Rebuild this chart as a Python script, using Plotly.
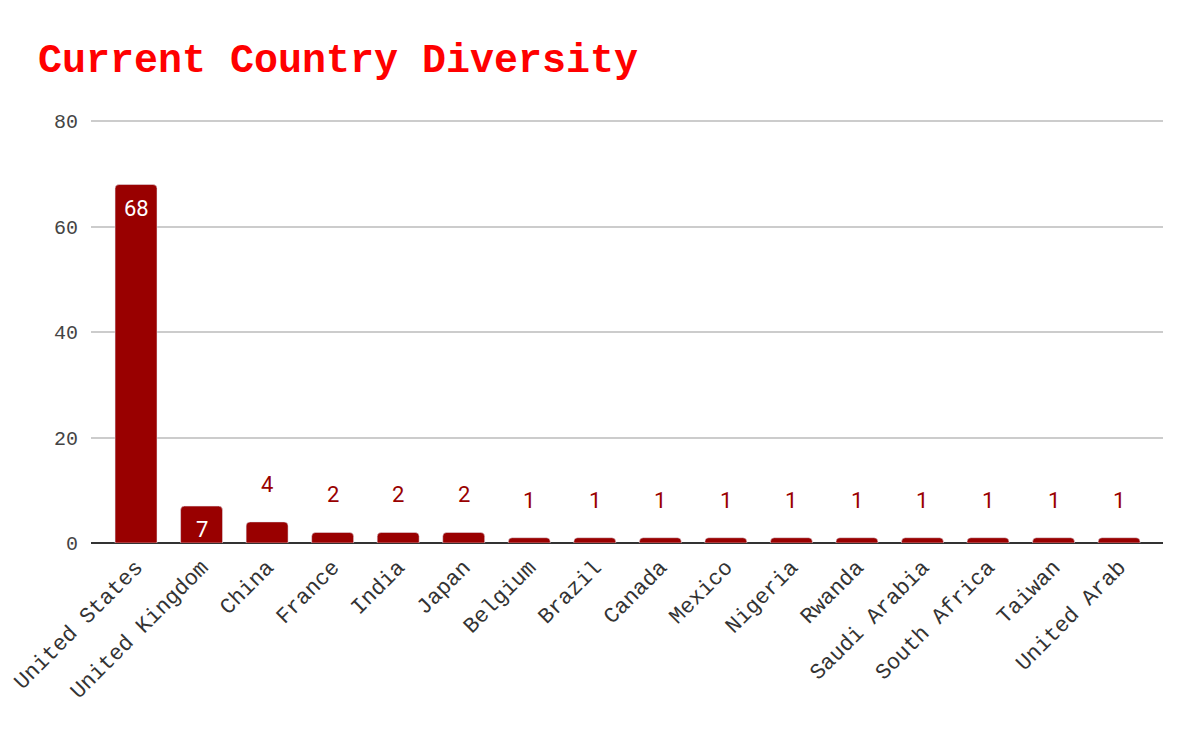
import plotly.graph_objects as go

countries = ["United States", "United Kingdom", "China", "France", "India", "Japan",
             "Belgium", "Brazil", "Canada", "Mexico", "Nigeria", "Rwanda",
             "Saudi Arabia", "South Africa", "Taiwan", "United Arab"]
counts = [68, 7, 4, 2, 2, 2, 1, 1, 1, 1, 1, 1, 1, 1, 1, 1]
y_ticks = [0, 20, 40, 60, 80]

BAR = "#990000"
fig = go.Figure()
fig.add_trace(go.Bar(
    x=countries, y=counts, marker=dict(color=BAR, cornerradius=4),
    width=0.64, hoverinfo="x+y",
))

annotations = []
for c, v in zip(countries, counts):
    if v >= 5:
        annotations.append(dict(x=c, y=v, text=str(v), showarrow=False, yanchor="top",
                                yshift=-9, font=dict(family="Roboto", size=22, color="white")))
    else:
        annotations.append(dict(x=c, y=v, text=str(v), showarrow=False, yanchor="bottom",
                                yshift=23, font=dict(family="Roboto", size=22, color=BAR)))

# page body has an 8px margin; compensate so the chart lands where the reference is
fig.update_layout(
    width=1200, height=742,
    paper_bgcolor="white", plot_bgcolor="white",
    margin=dict(l=83, r=45, t=108, b=207, autoexpand=False),
    title=dict(text="<b>Current Country Diversity</b>", x=30/1200, xanchor="left",
               y=1 - 50/742, yanchor="middle",
               font=dict(family="Liberation Mono", size=40, color="#ff0000")),
    showlegend=False,
    annotations=annotations,
    xaxis=dict(range=[-0.687, 15.67], tickangle=-45, showgrid=False, automargin=False,
               tickfont=dict(family="Liberation Mono", size=22, color="#333"),
               ticklabelshift=0, ticklabelstandoff=6,
               showline=False, zeroline=False),
    yaxis=dict(range=[0, 81], tickvals=y_ticks, showgrid=True, gridcolor="#cccccc", gridwidth=1.5,
               automargin=False,
               zeroline=True, zerolinecolor="#333333", zerolinewidth=2,
               tickfont=dict(family="Liberation Mono", size=20, color="#444"),
               ticklabelstandoff=12, showline=False),
)

fig.write_html("out.html")
